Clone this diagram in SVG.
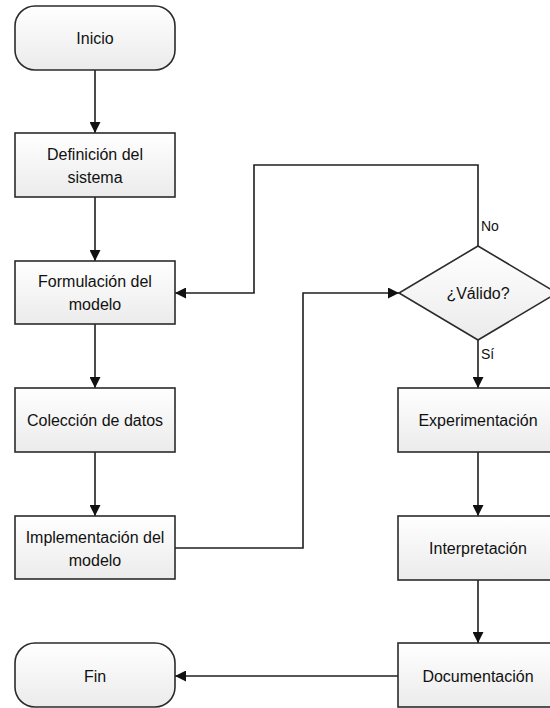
<svg xmlns="http://www.w3.org/2000/svg" width="550" height="708" viewBox="0 0 550 708">
  <style>
    .box { stroke: #2b2b2b; stroke-width: 1.6; fill: url(#boxFill); }
    .label { font-family: "Liberation Sans", Arial, sans-serif; font-size: 16px; fill: #111111; text-anchor: middle; dominant-baseline: central; }
    .tag { font-family: "Liberation Sans", Arial, sans-serif; font-size: 14px; fill: #111111; dominant-baseline: central; }
    .wire { fill: none; stroke: #1f1f1f; stroke-width: 1.6; }
    .arrow { marker-end: url(#head); }
  </style>
  <defs>
    <linearGradient id="boxFill" x1="0" y1="0" x2="0" y2="1">
      <stop offset="0" stop-color="#ffffff"/>
      <stop offset="1" stop-color="#ebebeb"/>
    </linearGradient>
    <marker id="head" viewBox="0 0 10 10" markerUnits="userSpaceOnUse" markerWidth="11" markerHeight="11" refX="10" refY="5" orient="auto">
      <path d="M0,0 L10,5 L0,10 z" fill="#111"/>
    </marker>
  </defs>

  <rect width="550" height="708" fill="#ffffff"/>

  <!-- connectors -->
  <g id="connectors">
    <path class="wire arrow" d="M95,70 V133"/>
    <path class="wire arrow" d="M95,197 V261"/>
    <path class="wire arrow" d="M95,324 V388"/>
    <path class="wire arrow" d="M95,452 V516"/>
    <path class="wire arrow" d="M175,548 H303 V293 H399"/>
    <path class="wire arrow" d="M478,246 V165 H254 V293 H175"/>
    <path class="wire arrow" d="M478,340 V388"/>
    <path class="wire arrow" d="M478,452 V516"/>
    <path class="wire arrow" d="M478,580 V643"/>
    <path class="wire arrow" d="M398,676 H175"/>
    <text class="tag" x="481" y="226">No</text>
    <text class="tag" x="481" y="354">Sí</text>
  </g>

  <!-- left column -->
  <g id="inicio">
    <rect class="box" x="15" y="6" width="160" height="64" rx="20" ry="20"/>
    <text class="label" x="95" y="38">Inicio</text>
  </g>
  <g id="definicion">
    <rect class="box" x="15" y="133" width="160" height="64"/>
    <text class="label" x="95" y="154">Definición del</text>
    <text class="label" x="95" y="177">sistema</text>
  </g>
  <g id="formulacion">
    <rect class="box" x="15" y="261" width="160" height="63"/>
    <text class="label" x="95" y="281">Formulación del</text>
    <text class="label" x="95" y="304">modelo</text>
  </g>
  <g id="coleccion">
    <rect class="box" x="15" y="388" width="160" height="64"/>
    <text class="label" x="95" y="420">Colección de datos</text>
  </g>
  <g id="implementacion">
    <rect class="box" x="15" y="516" width="160" height="63"/>
    <text class="label" x="95" y="537">Implementación del</text>
    <text class="label" x="95" y="560">modelo</text>
  </g>
  <g id="fin">
    <rect class="box" x="15" y="643" width="160" height="64" rx="20" ry="20"/>
    <text class="label" x="95" y="676">Fin</text>
  </g>

  <!-- right column -->
  <g id="valido">
    <polygon class="box" points="478,246 557,293 478,340 399,293"/>
    <text class="label" x="478" y="293">¿Válido?</text>
  </g>
  <g id="experimentacion">
    <rect class="box" x="398" y="388" width="160" height="64"/>
    <text class="label" x="478" y="420">Experimentación</text>
  </g>
  <g id="interpretacion">
    <rect class="box" x="398" y="516" width="160" height="64"/>
    <text class="label" x="478" y="548">Interpretación</text>
  </g>
  <g id="documentacion">
    <rect class="box" x="398" y="643" width="160" height="64"/>
    <text class="label" x="478" y="676">Documentación</text>
  </g>
</svg>
